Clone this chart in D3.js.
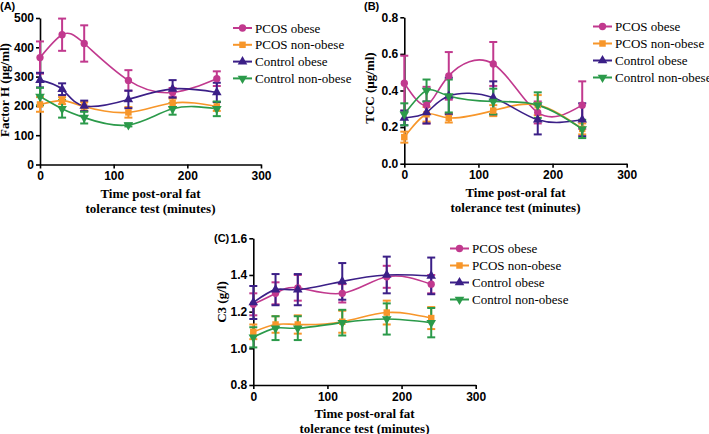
<!DOCTYPE html>
<html><head><meta charset="utf-8">
<script src="https://cdn.jsdelivr.net/npm/d3@7"></script>
<style>body{margin:0;background:#fff}svg{display:block}</style>
</head><body>
<svg id="c" width="709" height="434"></svg>
<script>
const times = [0, 30, 60, 120, 180, 240];
const seriesNames = ["PCOS obese", "PCOS non-obese", "Control obese", "Control non-obese"];
const xTicks = [0, 100, 200, 300];

// Panel A: Factor H (µg/ml)
const fhPcosObese = [365, 443, 413, 287, 246, 293];
const fhPcosObeseErr = [55, 55, 62, 35, 15, 25];
const fhPcosNonObese = [205, 218, 198, 178, 210, 198];
const fhPcosNonObeseErr = [25, 12, 15, 18, 15, 15];
const fhControlObese = [288, 257, 200, 222, 258, 246];
const fhControlObeseErr = [25, 20, 18, 30, 30, 33];
const fhControlNonObese = [232, 190, 160, 135, 190, 190];
const fhControlNonObeseErr = [30, 30, 20, 5, 20, 25];
const fhTicks = [0, 100, 200, 300, 400, 500];

// Panel B: TCC (µg/ml)
const tccPcosObese = [0.44, 0.32, 0.48, 0.545, 0.28, 0.32];
const tccPcosObeseErr = [0.15, 0.10, 0.13, 0.12, 0.06, 0.13];
const tccPcosNonObese = [0.145, 0.27, 0.25, 0.29, 0.32, 0.19];
const tccPcosNonObeseErr = [0.03, 0.04, 0.025, 0.03, 0.055, 0.03];
const tccControlObese = [0.25, 0.28, 0.37, 0.36, 0.24, 0.24];
const tccControlObeseErr = [0.04, 0.06, 0.10, 0.09, 0.08, 0.09];
const tccControlNonObese = [0.27, 0.40, 0.37, 0.34, 0.32, 0.19];
const tccControlNonObeseErr = [0.06, 0.06, 0.09, 0.07, 0.07, 0.05];
const tccTicks = [0.0, 0.2, 0.4, 0.6, 0.8];

// Panel C: C3 (g/l)
const c3PcosObese = [1.24, 1.30, 1.33, 1.30, 1.39, 1.35];
const c3PcosObeseErr = [0.06, 0.06, 0.07, 0.05, 0.06, 0.05];
const c3PcosNonObese = [1.09, 1.13, 1.13, 1.145, 1.195, 1.165];
const c3PcosNonObeseErr = [0.04, 0.045, 0.05, 0.06, 0.065, 0.06];
const c3ControlObese = [1.25, 1.32, 1.32, 1.365, 1.40, 1.395];
const c3ControlObeseErr = [0.09, 0.085, 0.085, 0.10, 0.10, 0.10];
const c3ControlNonObese = [1.06, 1.11, 1.11, 1.14, 1.16, 1.14];
const c3ControlNonObeseErr = [0.055, 0.065, 0.065, 0.07, 0.085, 0.08];
const c3Ticks = [0.8, 1.0, 1.2, 1.4, 1.6];

const colors = ["#c1398e", "#f7962a", "#3b1f87", "#2b9a4a"];
const symbols = [d3.symbolCircle, d3.symbolSquare, d3.symbolTriangle, d3.symbolTriangle];
const symbolRot = [0, 0, 0, 180];
const symbolSize = [42, 42, 40, 40];

const svg = d3.select("#c");
const serif = "'Liberation Serif','Times New Roman',serif";
const sans = "'Liberation Sans',Arial,sans-serif";

function panel(cfg) {
  const g = svg.append("g");
  const x = d3.scaleLinear().domain([0, 300]).range([cfg.left, cfg.right]);
  const y = d3.scaleLinear().domain(cfg.domain).range([cfg.bottom, cfg.top]);

  const xa = g.append("g").attr("transform", `translate(0,${cfg.bottom})`)
    .call(d3.axisBottom(x).tickValues(xTicks).tickSize(4).tickSizeOuter(0).tickPadding(3));
  const ya = g.append("g").attr("transform", `translate(${cfg.left},0)`)
    .call(d3.axisLeft(y).tickValues(cfg.ticks).tickFormat(cfg.fmt).tickSize(4).tickSizeOuter(0).tickPadding(2));
  [xa, ya].forEach(a => {
    a.selectAll("path,line").attr("stroke", "#000").attr("stroke-width", 1.6);
    a.selectAll("text").attr("fill", "#000").style("font-family", sans)
      .style("font-weight", "bold").style("font-size", "12px");
  });

  const cx = (cfg.left + cfg.right) / 2;
  const tt = g.append("text").attr("text-anchor", "middle")
    .style("font-family", serif).style("font-weight", "bold").style("font-size", "13px");
  tt.append("tspan").attr("x", cx).attr("y", cfg.bottom + 33).text("Time post-oral fat");
  tt.append("tspan").attr("x", cx).attr("y", cfg.bottom + 48).text("tolerance test (minutes)");

  g.append("text").attr("transform", `translate(${cfg.ytx},${cfg.yty}) rotate(-90)`)
    .attr("text-anchor", "middle").style("font-family", serif).style("font-weight", "bold")
    .style("font-size", "13px").text(cfg.ytitle);

  g.append("text").attr("x", cfg.labx).attr("y", cfg.laby).style("font-family", sans)
    .style("font-weight", "bold").style("font-size", "11px").text(cfg.label);

  const line = d3.line().x(d => x(d[0])).y(d => y(d[1])).curve(d3.curveNatural);

  cfg.series.forEach((s, i) => {
    const pts = times.map((t, j) => ({t, v: s.v[j], e: s.e[j]}));
    const eb = g.append("g").attr("stroke", colors[i]).attr("stroke-width", 2);
    pts.forEach(p => {
      const px = x(p.t), y1 = y(p.v + p.e), y2 = y(p.v - p.e);
      eb.append("line").attr("x1", px).attr("x2", px).attr("y1", y1).attr("y2", y2);
      eb.append("line").attr("x1", px - 4).attr("x2", px + 4).attr("y1", y1).attr("y2", y1);
      eb.append("line").attr("x1", px - 4).attr("x2", px + 4).attr("y1", y2).attr("y2", y2);
    });
  });
  cfg.series.forEach((s, i) => {
    g.append("path").datum(times.map((t, j) => [t, s.v[j]])).attr("d", line)
      .attr("fill", "none").attr("stroke", colors[i]).attr("stroke-width", 1.6);
  });
  cfg.series.forEach((s, i) => {
    times.forEach((t, j) => {
      g.append("path").attr("d", d3.symbol().type(symbols[i]).size(symbolSize[i])())
        .attr("transform", `translate(${x(t)},${y(s.v[j])}) rotate(${symbolRot[i]})`)
        .attr("fill", colors[i]);
    });
  });

  // legend
  seriesNames.forEach((n, i) => {
    const ly = cfg.legY + i * cfg.legDy;
    g.append("line").attr("x1", cfg.legX).attr("x2", cfg.legX + 19).attr("y1", ly).attr("y2", ly)
      .attr("stroke", colors[i]).attr("stroke-width", 2);
    g.append("path").attr("d", d3.symbol().type(symbols[i]).size(symbolSize[i])())
      .attr("transform", `translate(${cfg.legX + 9.5},${ly}) rotate(${symbolRot[i]})`)
      .attr("fill", colors[i]);
    g.append("text").attr("x", cfg.legX + 22).attr("y", ly + 4.5)
      .style("font-family", serif).style("font-size", "13px").attr("fill", "#000").text(n);
  });
}

const f1 = d3.format(".1f");

panel({
  left: 40, right: 261, top: 18, bottom: 164.5, domain: [0, 500], ticks: fhTicks, fmt: d3.format("d"),
  ytitle: "Factor H (µg/ml)", ytx: 9, yty: 90, label: "(A)", labx: 0, laby: 10,
  legX: 233, legY: 28, legDy: 16.8,
  series: [
    {v: fhPcosObese, e: fhPcosObeseErr},
    {v: fhPcosNonObese, e: fhPcosNonObeseErr},
    {v: fhControlObese, e: fhControlObeseErr},
    {v: fhControlNonObese, e: fhControlNonObeseErr}
  ]
});

panel({
  left: 404.3, right: 626.7, top: 17.3, bottom: 163.7, domain: [0, 0.8], ticks: tccTicks, fmt: f1,
  ytitle: "TCC (µg/ml)", ytx: 374, yty: 88, label: "(B)", labx: 364, laby: 10,
  legX: 593, legY: 26.5, legDy: 17,
  series: [
    {v: tccPcosObese, e: tccPcosObeseErr},
    {v: tccPcosNonObese, e: tccPcosNonObeseErr},
    {v: tccControlObese, e: tccControlObeseErr},
    {v: tccControlNonObese, e: tccControlNonObeseErr}
  ]
});

panel({
  left: 253.3, right: 475.7, top: 238.3, bottom: 385, domain: [0.8, 1.6], ticks: c3Ticks, fmt: f1,
  ytitle: "C3 (g/l)", ytx: 226, yty: 302, label: "(C)", labx: 214, laby: 242,
  legX: 450, legY: 248.5, legDy: 17,
  series: [
    {v: c3PcosObese, e: c3PcosObeseErr},
    {v: c3PcosNonObese, e: c3PcosNonObeseErr},
    {v: c3ControlObese, e: c3ControlObeseErr},
    {v: c3ControlNonObese, e: c3ControlNonObeseErr}
  ]
});
</script>
</body></html>
